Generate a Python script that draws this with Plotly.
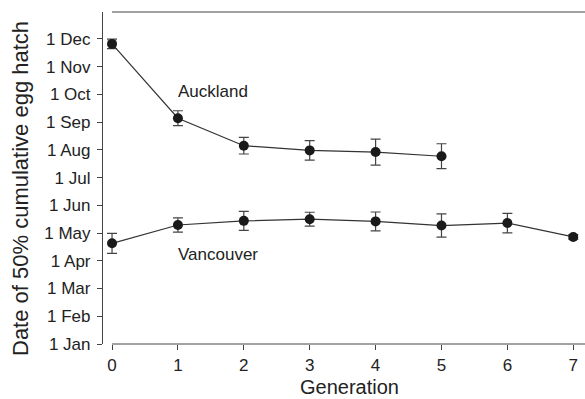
import plotly.graph_objects as go

months = ["1 Jan", "1 Feb", "1 Mar", "1 Apr", "1 May", "1 Jun",
          "1 Jul", "1 Aug", "1 Sep", "1 Oct", "1 Nov", "1 Dec"]
month_vals = list(range(12))

gen_auck = [0, 1, 2, 3, 4, 5]
auck = [10.82, 8.14, 7.15, 6.98, 6.92, 6.77]
auck_err = [0.17, 0.27, 0.30, 0.35, 0.47, 0.45]

gen_van = [0, 1, 2, 3, 4, 5, 6, 7]
van = [3.63, 4.29, 4.44, 4.50, 4.42, 4.27, 4.36, 3.86]
van_err = [0.36, 0.26, 0.34, 0.25, 0.34, 0.42, 0.35, 0.08]

FONT = "Liberation Sans, Arial, Helvetica, sans-serif"

fig = go.Figure()
for xs, ys, es in [(gen_auck, auck, auck_err), (gen_van, van, van_err)]:
    fig.add_trace(go.Scatter(
        x=xs, y=ys, mode="lines+markers",
        line=dict(color="#333333", width=1.2),
        marker=dict(color="#1a1a1a", size=10),
        error_y=dict(type="data", array=es, color="#444444", thickness=1.2, width=5),
        showlegend=False, cliponaxis=False,
    ))

xmin, xmax = -0.137, 7.178
ymin, ymax = 0, 11.97
plot_w, plot_h = 585 - 103, 399 - 12 - 55


def px_x(px):
    return (px - 103) / plot_w


def px_y(py):
    return (344 - py) / plot_h


fig.update_layout(
    width=585, height=399,
    margin=dict(l=103, r=0, t=12, b=55),
    paper_bgcolor="white", plot_bgcolor="white",
    font=dict(family=FONT, color="#222222", size=17),
    xaxis=dict(range=[xmin, xmax], tickvals=list(range(8)), ticks="outside",
               ticklen=5, tickcolor="#444444", showgrid=False, zeroline=False,
               showline=False, tickfont=dict(size=17), ticklabelstandoff=1,
               automargin=False),
    yaxis=dict(range=[ymin, ymax], tickvals=month_vals, ticktext=months,
               ticks="outside", ticklen=5, tickcolor="#444444", showgrid=False,
               zeroline=False, showline=True, linecolor="#444444", linewidth=1.2,
               tickfont=dict(size=17), ticklabelstandoff=3, automargin=False),
    shapes=[
        dict(type="line", xref="x", yref="paper", x0=0, x1=7.178, y0=0, y1=0,
             line=dict(color="#444444", width=1.2)),
        dict(type="line", xref="x", yref="paper", x0=0, x1=7.178, y0=1, y1=1,
             line=dict(color="#444444", width=1.2)),
    ],
    annotations=[
        dict(text="Auckland", x=0.97, y=9.12, xref="x", yref="y", xanchor="left",
             showarrow=False, font=dict(size=17)),
        dict(text="Vancouver", x=0.97, y=3.21, xref="x", yref="y", xanchor="left",
             showarrow=False, font=dict(size=17)),
        dict(text="Date of 50% cumulative egg hatch", x=px_x(20), y=px_y(189),
             xref="paper", yref="paper", textangle=-90, showarrow=False,
             font=dict(size=22), xanchor="center", yanchor="middle"),
        dict(text="Generation", x=px_x(349), y=px_y(398.5), xref="paper",
             yref="paper", showarrow=False, font=dict(size=20), borderpad=0,
             xanchor="center", yanchor="bottom"),
    ],
)

fig.write_html("out.html")
